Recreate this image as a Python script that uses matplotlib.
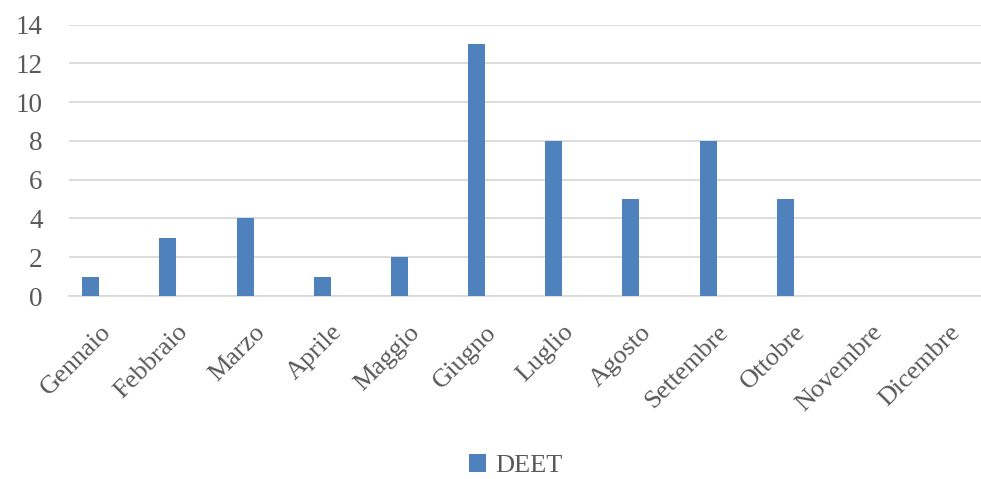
import matplotlib
matplotlib.use("Agg")
import matplotlib.pyplot as plt
import matplotlib.transforms as mtransforms
import numpy as np

months = ["Gennaio", "Febbraio", "Marzo", "Aprile", "Maggio", "Giugno",
          "Luglio", "Agosto", "Settembre", "Ottobre", "Novembre", "Dicembre"]
deet = [1, 3, 4, 1, 2, 13, 8, 5, 8, 5, 0, 0]
yticks = [0, 2, 4, 6, 8, 10, 12, 14]

plt.rcParams["font.family"] = ["Liberation Serif", "DejaVu Serif"]
text_color = "#595959"
grid_color = "#D9D9D9"
bar_color = "#4F81BD"

fig = plt.figure(figsize=(9.81, 4.79), dpi=100)
ax = fig.add_axes([69 / 981, 183 / 479, 926.4 / 981, 271.5 / 479])

x = np.arange(len(months))
bar_w = 17 / 77.2
# bars sit in the first slot of a three-slot cluster
ax.bar(x - bar_w, deet, width=bar_w, color=bar_color, label="DEET", zorder=3)

ax.set_xlim(-0.5, len(months) - 0.5)
ax.set_ylim(0, 14)
ax.set_yticks(yticks)
ax.set_yticklabels([str(v) for v in yticks], fontsize=19.5, color=text_color)
ax.yaxis.grid(True, color=grid_color, linewidth=1.3, zorder=0)
ax.tick_params(axis="y", length=0, pad=19)

ax.set_xticks(x)
ax.set_xticklabels(months, rotation=45, ha="right", va="top",
                   rotation_mode="anchor", fontsize=19, color=text_color)
ax.tick_params(axis="x", length=0, pad=18)
shift = mtransforms.ScaledTranslation(-8 / 100, 0, fig.dpi_scale_trans)
for lbl in ax.get_xticklabels():
    lbl.set_transform(lbl.get_transform() + shift)

for side in ["top", "right", "left"]:
    ax.spines[side].set_visible(False)
ax.spines["bottom"].set_color(grid_color)
ax.spines["bottom"].set_linewidth(1.3)

fig.legend(loc="center", bbox_to_anchor=(0.5255, 0.028), frameon=False,
           fontsize=19, labelcolor=text_color, handlelength=0.65,
           handleheight=0.65, handletextpad=0.35, borderpad=0)

fig.savefig("out.png", dpi=100)
